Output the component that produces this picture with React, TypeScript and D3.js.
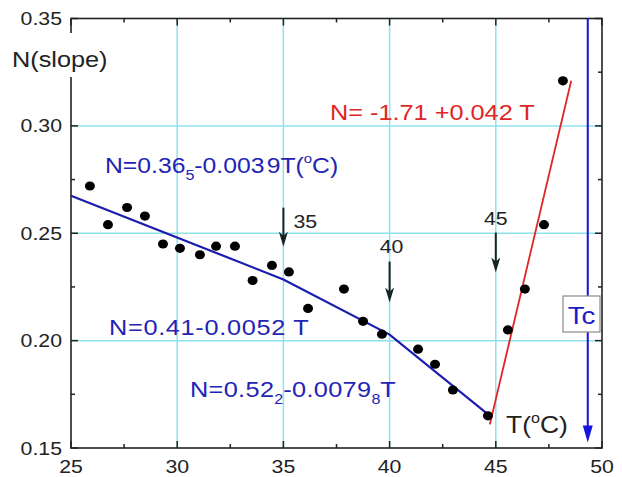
import React from "react";
import * as d3 from "d3";

// ---- data ----
const tempT = [25.89, 26.74, 27.64, 28.48, 29.33, 30.13, 31.07, 31.83, 32.72, 33.55, 34.46, 35.26, 36.16, 37.85, 38.75, 39.64, 41.34, 42.14, 42.98, 44.63, 45.57, 46.37, 47.27, 48.16];
const slopeN = [0.272, 0.254, 0.262, 0.258, 0.245, 0.243, 0.240, 0.244, 0.244, 0.228, 0.235, 0.232, 0.215, 0.224, 0.209, 0.203, 0.196, 0.189, 0.177, 0.165, 0.205, 0.224, 0.254, 0.321];

const blueFitT = [25, 35, 40, 44.65];
const blueFitN = [0.2675, 0.2285, 0.2028, 0.1655];
const redFitT = [44.72, 48.55];
const redFitN = [0.161, 0.321];

const xTicks = [25, 30, 35, 40, 45, 50];
const xMinor = [27.5, 32.5, 37.5, 42.5, 47.5];
const yTicks = [0.15, 0.2, 0.25, 0.3, 0.35];
const yMinor = [0.175, 0.225, 0.275, 0.325];
const xGrid = [30, 35, 40, 45];
const yGrid = [0.2, 0.25, 0.3];

const markLabels = ["35", "40", "45"];
const markT = [35, 40, 45];
const markTop = [0.2619, 0.2368, 0.2503];
const markTip = [0.2437, 0.2177, 0.2317];
const tcT = 49.33;

const W = 622, H = 477;
const SX = 1.15;
const FONT = "'Liberation Sans', Arial, Helvetica, sans-serif";

function Txt({ x, y, anchor = "start", size = 18, fill = "#222", children }: any) {
  return (
    <g transform={`translate(${x},${y}) scale(${SX},1)`}>
      <text x={0} y={0} textAnchor={anchor} fontSize={size} fill={fill} fontFamily={FONT}>
        {children}
      </text>
    </g>
  );
}

function arrowPath(x: number, y2: number, hl: number, hw: number) {
  return `M${x - hw},${y2 - hl} L${x},${y2} L${x + hw},${y2 - hl} L${x},${y2 - hl + 4} Z`;
}

export default function App() {
  const x = d3.scaleLinear().domain([25, 50]).range([71, 602]);
  const y = d3.scaleLinear().domain([0.15, 0.35]).range([448, 18.5]);
  const x0 = x(25), x1 = x(50), y0 = y(0.15), y1 = y(0.35);

  const line = d3.line<[number, number]>().x((d) => x(d[0])).y((d) => y(d[1]));
  const blue = line(blueFitT.map((t, i) => [t, blueFitN[i]]));
  const red = line(redFitT.map((t, i) => [t, redFitN[i]]));

  const blueTxt = "#2424b4";
  const tcX = x(tcT);
  const tcTip = y(0.1535);

  return (
    <svg width={W} height={H} style={{ position: "absolute", left: 0, top: 0, background: "#fff" }}>
      <rect x={0} y={0} width={W} height={H} fill="#fff" />
      {/* grid */}
      {xGrid.map((g) => (
        <line key={"gx" + g} x1={x(g)} x2={x(g)} y1={y1} y2={y0} stroke="#8ee2ea" strokeWidth={1.5} />
      ))}
      {yGrid.map((g) => (
        <line key={"gy" + g} x1={x0} x2={x1} y1={y(g)} y2={y(g)} stroke="#8ee2ea" strokeWidth={1.5} />
      ))}

      {/* ticks (inward, all sides) */}
      {xTicks.concat(xMinor).map((t) => {
        const len = xTicks.includes(t) ? 7 : 4;
        return (
          <g key={"xt" + t}>
            <line x1={x(t)} x2={x(t)} y1={y0} y2={y0 - len} stroke="#222" strokeWidth={1.5} />
            <line x1={x(t)} x2={x(t)} y1={y1} y2={y1 + len} stroke="#222" strokeWidth={1.5} />
          </g>
        );
      })}
      {yTicks.concat(yMinor).map((t) => {
        const len = yTicks.includes(t) ? 7 : 4;
        return (
          <g key={"yt" + t}>
            <line x1={x0} x2={x0 + len} y1={y(t)} y2={y(t)} stroke="#222" strokeWidth={1.5} />
            <line x1={x1} x2={x1 - len} y1={y(t)} y2={y(t)} stroke="#222" strokeWidth={1.5} />
          </g>
        );
      })}
      <rect x={x0} y={y1} width={x1 - x0} height={y0 - y1} fill="none" stroke="#222" strokeWidth={1.6} />

      {/* tick labels */}
      {xTicks.map((t) => (
        <Txt key={"xl" + t} x={x(t)} y={473} anchor="middle" size={18.5}>
          {String(t)}
        </Txt>
      ))}
      {yTicks.map((t) => (
        <Txt key={"yl" + t} x={62} y={y(t) + 6.5} anchor="end" size={18.5}>
          {t.toFixed(2)}
        </Txt>
      ))}

      {/* axis label N(slope) with white backing */}
      <rect x={8} y={33} width={104} height={44} fill="#fff" />
      <Txt x={12} y={67} size={22}>N(slope)</Txt>

      {/* fits */}
      <path d={blue || ""} fill="none" stroke="#1c1cb0" strokeWidth={2.2} />
      <path d={red || ""} fill="none" stroke="#e02626" strokeWidth={1.8} />

      {/* points */}
      {tempT.map((t, i) => (
        <ellipse key={"p" + i} cx={x(t)} cy={y(slopeN[i])} rx={5} ry={4.6} fill="#000" />
      ))}

      {/* arrows 35/40/45 */}
      {markT.map((t, i) => {
        const ax = x(t);
        const ya = y(markTop[i]);
        const yb = y(markTip[i]);
        return (
          <g key={"m" + i}>
            <line x1={ax} x2={ax} y1={ya} y2={yb - 6} stroke="#142424" strokeWidth={2} />
            <path d={arrowPath(ax, yb, 15, 4.5)} fill="#142424" />
          </g>
        );
      })}
      <Txt x={x(35) + 10} y={228} size={18.5}>{markLabels[0]}</Txt>
      <Txt x={x(40) + 2} y={253} anchor="middle" size={18.5}>{markLabels[1]}</Txt>
      <Txt x={x(45)} y={225} anchor="middle" size={18.5}>{markLabels[2]}</Txt>

      {/* Tc arrow */}
      <line x1={tcX} x2={tcX} y1={y1} y2={tcTip - 6} stroke="#1414dc" strokeWidth={2} />
      <path d={`M${tcX - 5},${tcTip - 15} L${tcX},${tcTip + 2} L${tcX + 5},${tcTip - 15} Z`} fill="#1414dc" />
      <rect x={563} y={296} width={37} height={36} fill="#fff" stroke="#8a8a8a" strokeWidth={1.2} />
      <Txt x={581.5} y={324} anchor="middle" size={24} fill="#1a1ac8">Tc</Txt>

      {/* equations */}
      <Txt x={105} y={173} size={21.5} fill={blueTxt}>
        N=0.36<tspan fontSize={14} dy={7}>5</tspan><tspan dy={-7}>-0.003</tspan><tspan dx={2}>9T(</tspan>
        <tspan fontSize={13} dy={-10}>o</tspan><tspan dy={10}>C)</tspan>
      </Txt>
      <Txt x={109} y={335} size={22} fill={blueTxt}>
        <tspan letterSpacing={0.6}>N=0.41-0.0052 T</tspan>
      </Txt>
      <Txt x={190} y={397} size={22} fill={blueTxt}>
        <tspan letterSpacing={0.3}>N=0.52</tspan><tspan fontSize={14} dy={7}>2</tspan><tspan dy={-7} letterSpacing={0.3}>-0.0079</tspan>
        <tspan fontSize={14} dy={7}>8</tspan><tspan dy={-7}>T</tspan>
      </Txt>
      <Txt x={330} y={120} size={22} fill="#e02626">
        N= -1.71 +0.042 T
      </Txt>
      <Txt x={506} y={433} size={23} fill="#222">
        T(<tspan fontSize={14} dy={-10}>o</tspan><tspan dy={10}>C)</tspan>
      </Txt>
    </svg>
  );
}
